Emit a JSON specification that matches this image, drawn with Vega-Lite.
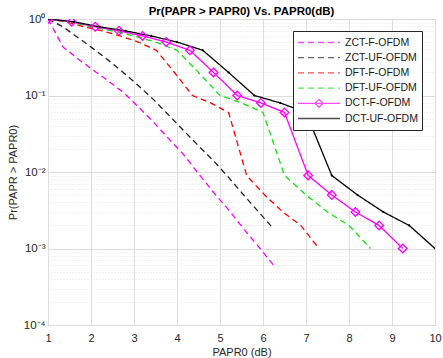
{
  "$schema": "https://vega.github.io/schema/vega-lite/v6.json",
  "width": 387,
  "height": 306,
  "autosize": {"type": "none"},
  "padding": {"left": 48, "top": 19, "right": 8, "bottom": 33},
  "background": "white",
  "config": {
    "font": "Liberation Sans",
    "view": {"stroke": "#6e6e6e", "strokeWidth": 1},
    "axis": {
      "domain": false,
      "ticks": false,
      "labelFont": "Liberation Sans",
      "labelFontSize": 11,
      "labelColor": "#262626",
      "titleFont": "Liberation Sans",
      "titleFontSize": 11,
      "titleFontWeight": "normal",
      "titleColor": "#262626",
      "gridColor": "#dedede",
      "gridWidth": 1
    }
  },
  "title": {
    "text": "Pr(PAPR > PAPR0) Vs. PAPR0(dB)",
    "font": "Liberation Sans",
    "fontSize": 11.5,
    "fontWeight": "bold",
    "color": "#000000",
    "anchor": "middle",
    "frame": "group",
    "offset": 4,
    "dy": 8
  },
  "datasets": {
    "d": [
      {"s": "ZCT-F-OFDM", "x": 1, "y": 1},
      {"s": "ZCT-F-OFDM", "x": 1.35, "y": 0.43},
      {"s": "ZCT-F-OFDM", "x": 1.7, "y": 0.3},
      {"s": "ZCT-F-OFDM", "x": 2.05, "y": 0.215},
      {"s": "ZCT-F-OFDM", "x": 2.4, "y": 0.155},
      {"s": "ZCT-F-OFDM", "x": 2.75, "y": 0.11},
      {"s": "ZCT-F-OFDM", "x": 3.1, "y": 0.071},
      {"s": "ZCT-F-OFDM", "x": 3.45, "y": 0.045},
      {"s": "ZCT-F-OFDM", "x": 3.8, "y": 0.0275},
      {"s": "ZCT-F-OFDM", "x": 4.15, "y": 0.017},
      {"s": "ZCT-F-OFDM", "x": 4.5, "y": 0.0095},
      {"s": "ZCT-F-OFDM", "x": 4.85, "y": 0.0054},
      {"s": "ZCT-F-OFDM", "x": 5.2, "y": 0.0032},
      {"s": "ZCT-F-OFDM", "x": 5.55, "y": 0.0018},
      {"s": "ZCT-F-OFDM", "x": 5.9, "y": 0.00105},
      {"s": "ZCT-F-OFDM", "x": 6.25, "y": 0.0006},
      {"s": "ZCT-UF-OFDM", "x": 1, "y": 1},
      {"s": "ZCT-UF-OFDM", "x": 1.35, "y": 0.79},
      {"s": "ZCT-UF-OFDM", "x": 1.7, "y": 0.57},
      {"s": "ZCT-UF-OFDM", "x": 2.05, "y": 0.41},
      {"s": "ZCT-UF-OFDM", "x": 2.4, "y": 0.29},
      {"s": "ZCT-UF-OFDM", "x": 2.75, "y": 0.2},
      {"s": "ZCT-UF-OFDM", "x": 3.1, "y": 0.135},
      {"s": "ZCT-UF-OFDM", "x": 3.45, "y": 0.089},
      {"s": "ZCT-UF-OFDM", "x": 3.8, "y": 0.056},
      {"s": "ZCT-UF-OFDM", "x": 4.15, "y": 0.035},
      {"s": "ZCT-UF-OFDM", "x": 4.5, "y": 0.022},
      {"s": "ZCT-UF-OFDM", "x": 4.85, "y": 0.014},
      {"s": "ZCT-UF-OFDM", "x": 5.2, "y": 0.0085},
      {"s": "ZCT-UF-OFDM", "x": 5.55, "y": 0.005},
      {"s": "ZCT-UF-OFDM", "x": 5.9, "y": 0.003},
      {"s": "ZCT-UF-OFDM", "x": 6.25, "y": 0.0018},
      {"s": "DFT-F-OFDM", "x": 1, "y": 1},
      {"s": "DFT-F-OFDM", "x": 1.42, "y": 0.92},
      {"s": "DFT-F-OFDM", "x": 1.84, "y": 0.79},
      {"s": "DFT-F-OFDM", "x": 2.26, "y": 0.7},
      {"s": "DFT-F-OFDM", "x": 2.68, "y": 0.6},
      {"s": "DFT-F-OFDM", "x": 3.1, "y": 0.5},
      {"s": "DFT-F-OFDM", "x": 3.52, "y": 0.39},
      {"s": "DFT-F-OFDM", "x": 3.94, "y": 0.2},
      {"s": "DFT-F-OFDM", "x": 4.36, "y": 0.1},
      {"s": "DFT-F-OFDM", "x": 4.78, "y": 0.08},
      {"s": "DFT-F-OFDM", "x": 5.2, "y": 0.06},
      {"s": "DFT-F-OFDM", "x": 5.62, "y": 0.009},
      {"s": "DFT-F-OFDM", "x": 6.04, "y": 0.005},
      {"s": "DFT-F-OFDM", "x": 6.46, "y": 0.003},
      {"s": "DFT-F-OFDM", "x": 6.88, "y": 0.002},
      {"s": "DFT-F-OFDM", "x": 7.3, "y": 0.001},
      {"s": "DFT-UF-OFDM", "x": 1, "y": 1},
      {"s": "DFT-UF-OFDM", "x": 1.5, "y": 0.92},
      {"s": "DFT-UF-OFDM", "x": 2, "y": 0.79},
      {"s": "DFT-UF-OFDM", "x": 2.5, "y": 0.7},
      {"s": "DFT-UF-OFDM", "x": 3, "y": 0.6},
      {"s": "DFT-UF-OFDM", "x": 3.5, "y": 0.5},
      {"s": "DFT-UF-OFDM", "x": 4, "y": 0.39},
      {"s": "DFT-UF-OFDM", "x": 4.5, "y": 0.2},
      {"s": "DFT-UF-OFDM", "x": 5, "y": 0.1},
      {"s": "DFT-UF-OFDM", "x": 5.5, "y": 0.08},
      {"s": "DFT-UF-OFDM", "x": 6, "y": 0.06},
      {"s": "DFT-UF-OFDM", "x": 6.5, "y": 0.009},
      {"s": "DFT-UF-OFDM", "x": 7, "y": 0.005},
      {"s": "DFT-UF-OFDM", "x": 7.5, "y": 0.003},
      {"s": "DFT-UF-OFDM", "x": 8, "y": 0.002},
      {"s": "DFT-UF-OFDM", "x": 8.5, "y": 0.001},
      {"s": "DCT-F-OFDM", "x": 1, "y": 1},
      {"s": "DCT-F-OFDM", "x": 1.55, "y": 0.92},
      {"s": "DCT-F-OFDM", "x": 2.1, "y": 0.79},
      {"s": "DCT-F-OFDM", "x": 2.65, "y": 0.7},
      {"s": "DCT-F-OFDM", "x": 3.2, "y": 0.6},
      {"s": "DCT-F-OFDM", "x": 3.75, "y": 0.5},
      {"s": "DCT-F-OFDM", "x": 4.3, "y": 0.39},
      {"s": "DCT-F-OFDM", "x": 4.85, "y": 0.2},
      {"s": "DCT-F-OFDM", "x": 5.4, "y": 0.1},
      {"s": "DCT-F-OFDM", "x": 5.95, "y": 0.08},
      {"s": "DCT-F-OFDM", "x": 6.5, "y": 0.06},
      {"s": "DCT-F-OFDM", "x": 7.05, "y": 0.009},
      {"s": "DCT-F-OFDM", "x": 7.6, "y": 0.005},
      {"s": "DCT-F-OFDM", "x": 8.15, "y": 0.003},
      {"s": "DCT-F-OFDM", "x": 8.7, "y": 0.002},
      {"s": "DCT-F-OFDM", "x": 9.25, "y": 0.001},
      {"s": "DCT-UF-OFDM", "x": 1, "y": 1},
      {"s": "DCT-UF-OFDM", "x": 1.6, "y": 0.92},
      {"s": "DCT-UF-OFDM", "x": 2.2, "y": 0.79},
      {"s": "DCT-UF-OFDM", "x": 2.8, "y": 0.7},
      {"s": "DCT-UF-OFDM", "x": 3.4, "y": 0.6},
      {"s": "DCT-UF-OFDM", "x": 4, "y": 0.5},
      {"s": "DCT-UF-OFDM", "x": 4.6, "y": 0.39},
      {"s": "DCT-UF-OFDM", "x": 5.2, "y": 0.2},
      {"s": "DCT-UF-OFDM", "x": 5.8, "y": 0.1},
      {"s": "DCT-UF-OFDM", "x": 6.4, "y": 0.08},
      {"s": "DCT-UF-OFDM", "x": 7, "y": 0.06},
      {"s": "DCT-UF-OFDM", "x": 7.6, "y": 0.009},
      {"s": "DCT-UF-OFDM", "x": 8.2, "y": 0.005},
      {"s": "DCT-UF-OFDM", "x": 8.8, "y": 0.003},
      {"s": "DCT-UF-OFDM", "x": 9.4, "y": 0.002},
      {"s": "DCT-UF-OFDM", "x": 10, "y": 0.001}
    ]
  },
  "encoding": {
    "x": {
      "field": "x",
      "type": "quantitative",
      "scale": {"domain": [1, 10], "nice": false, "zero": false},
      "axis": {
        "values": [1, 2, 3, 4, 5, 6, 7, 8, 9, 10],
        "grid": true,
        "labelPadding": 7,
        "title": "PAPR0 (dB)",
        "titlePadding": 3,
        "labelFlush": false
      }
    },
    "y": {
      "field": "y",
      "type": "quantitative",
      "scale": {"type": "log", "domain": [0.0001, 1], "nice": false},
      "axis": {
        "values": [0.0001, 0.0002, 0.0003, 0.0004, 0.0005, 0.0006, 0.0007, 0.0008, 0.0009, 0.001, 0.002, 0.003, 0.004, 0.005, 0.006, 0.007, 0.008, 0.009, 0.01, 0.02, 0.03, 0.04, 0.05, 0.06, 0.07, 0.08, 0.09, 0.1, 0.2, 0.3, 0.4, 0.5, 0.6, 0.7, 0.8, 0.9, 1],
        "grid": true,
        "gridDash": {"condition": {"test": "indexof([1, 0.1, 0.01, 0.001, 0.0001], datum.value) >= 0", "value": []}, "value": [1, 2]},
        "gridColor": {"condition": {"test": "indexof([1, 0.1, 0.01, 0.001, 0.0001], datum.value) >= 0", "value": "#dcdcdc"}, "value": "#e4e4e4"},
        "labelExpr": "datum.value == 1 ? '10⁰' : datum.value == 0.1 ? '10⁻¹' : datum.value == 0.01 ? '10⁻²' : datum.value == 0.001 ? '10⁻³' : datum.value == 0.0001 ? '10⁻⁴' : ''",
        "labelOverlap": false,
        "labelFontSize": 11.5,
        "labelPadding": 3,
        "title": "Pr(PAPR > PAPR0)",
        "titlePadding": 5
      }
    }
  },
  "layer": [
    {
      "data": {"name": "d"},
      "mark": {"type": "line", "strokeWidth": 1.3, "clip": true},
      "encoding": {
        "color": {
          "field": "s",
          "type": "nominal",
          "scale": {
            "domain": ["ZCT-F-OFDM", "ZCT-UF-OFDM", "DFT-F-OFDM", "DFT-UF-OFDM", "DCT-F-OFDM", "DCT-UF-OFDM"],
            "range": ["#ff00ff", "#222222", "#ff0000", "#11e011", "#ff00ff", "#000000"]
          },
          "legend": {
            "orient": "none",
            "legendX": 245,
            "legendY": 12,
            "title": null,
            "symbolSize": 1764,
            "symbolStrokeWidth": 1.3,
            "labelFontSize": 10.5,
            "labelFont": "Liberation Sans",
            "labelColor": "#1a1a1a",
            "labelOffset": 4,
            "clipHeight": 15,
            "rowPadding": 0.2,
            "padding": 4,
            "strokeColor": "#262626",
            "fillColor": "white",
            "cornerRadius": 0
          }
        },
        "strokeDash": {
          "field": "s",
          "type": "nominal",
          "scale": {
            "domain": ["ZCT-F-OFDM", "ZCT-UF-OFDM", "DFT-F-OFDM", "DFT-UF-OFDM", "DCT-F-OFDM", "DCT-UF-OFDM"],
            "range": [[6, 4], [6, 4], [6, 4], [6, 4], [1, 0], [1, 0]]
          }
        },
        "order": {"field": "x", "type": "quantitative"}
      }
    },
    {
      "data": {"name": "d"},
      "transform": [{"filter": "datum.s == 'DCT-F-OFDM'"}],
      "mark": {"type": "point", "shape": "diamond", "filled": false, "stroke": "#ff00ff", "strokeWidth": 1.3, "size": 75, "opacity": 1, "clip": true},
      "encoding": {}
    },
    {
      "data": {"name": "d"},
      "transform": [{"filter": "datum.s == 'DCT-UF-OFDM'"}],
      "mark": {"type": "point", "shape": "circle", "filled": true, "color": "#000000", "size": 5, "opacity": 1, "clip": true},
      "encoding": {}
    },
    {
      "data": {"name": "d"},
      "transform": [{"filter": "false"}],
      "mark": {"type": "point", "filled": false},
      "encoding": {
        "shape": {
          "field": "s",
          "type": "nominal",
          "scale": {
            "domain": ["ZCT-F-OFDM", "ZCT-UF-OFDM", "DFT-F-OFDM", "DFT-UF-OFDM", "DCT-F-OFDM", "DCT-UF-OFDM"],
            "range": ["M-1,0H1", "M-1,0H1", "M-1,0H1", "M-1,0H1", "M-1,0H1M0,-0.19L0.19,0L0,0.19L-0.19,0Z", "M-1,0H1"]
          }
        }
      }
    }
  ]
}
